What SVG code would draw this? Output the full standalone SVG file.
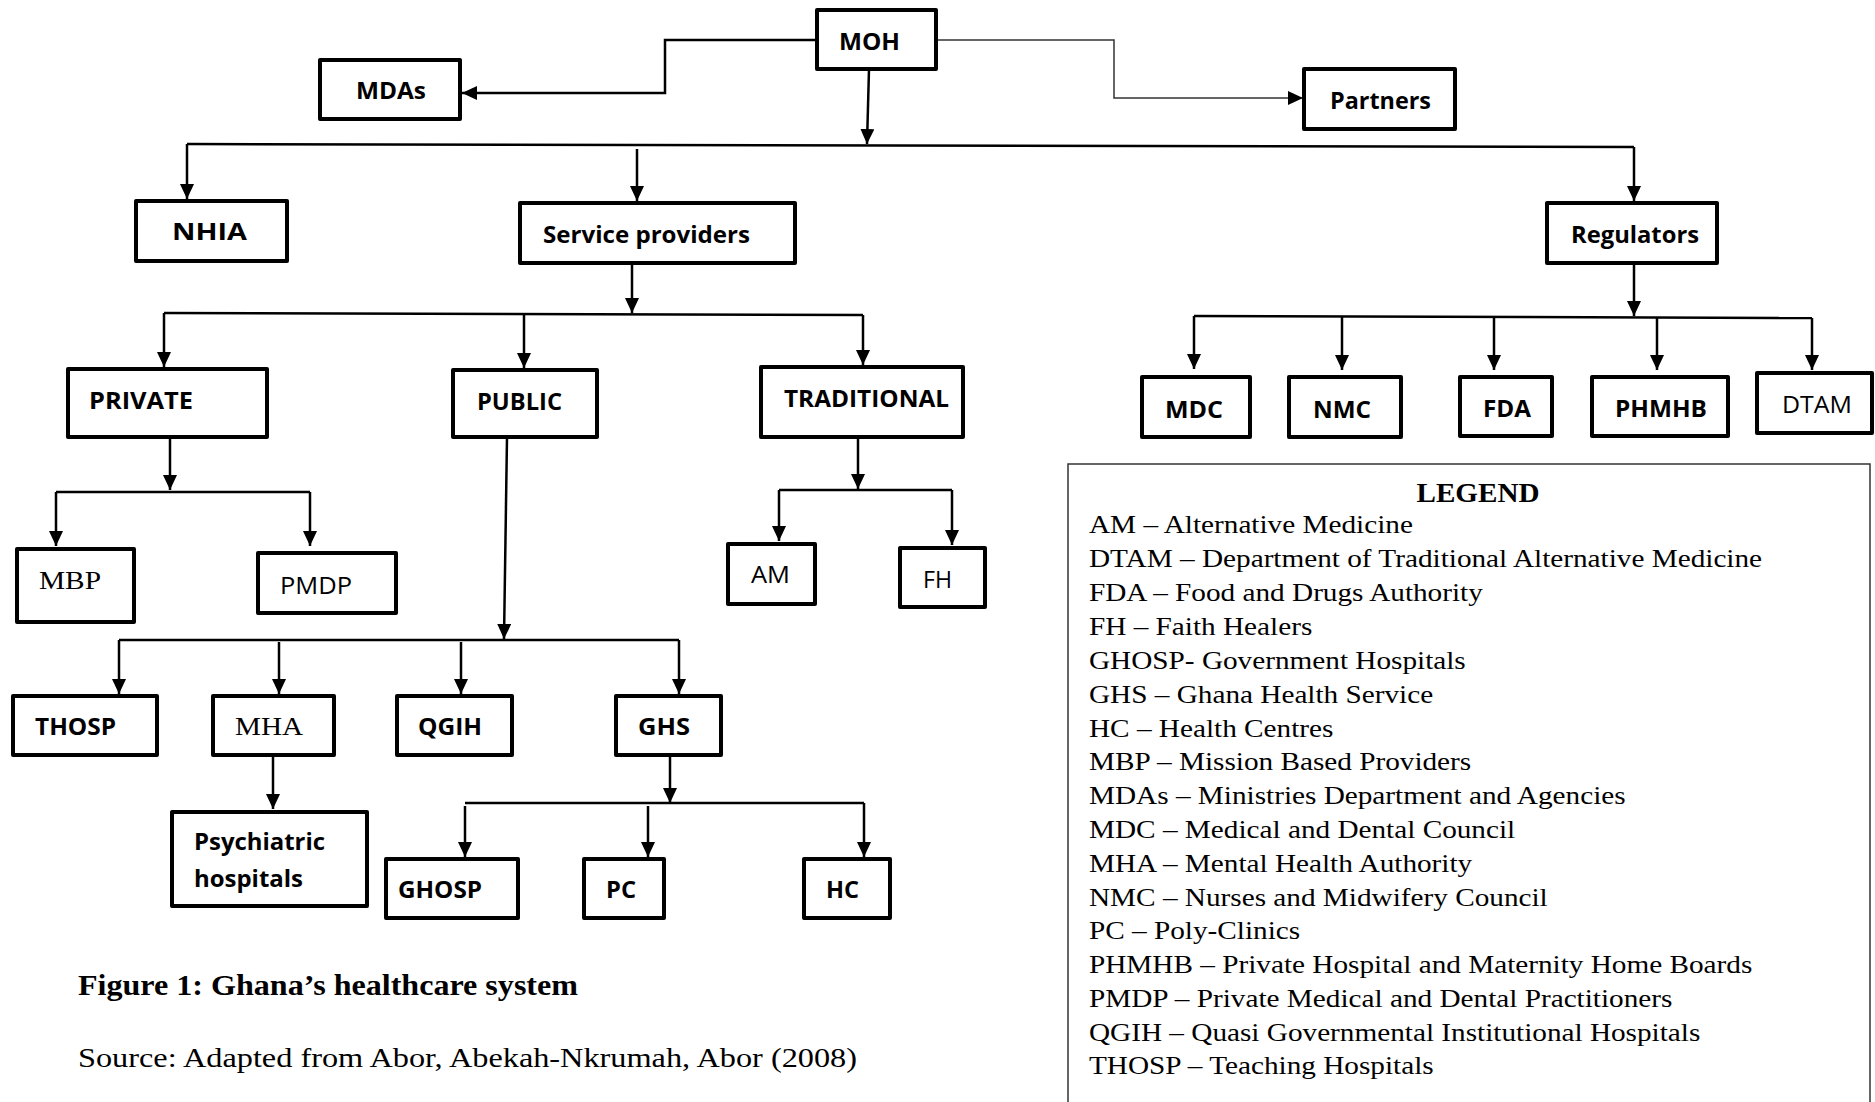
<svg xmlns="http://www.w3.org/2000/svg" width="1875" height="1102" viewBox="0 0 1875 1102">
<defs>
<marker id="arr" markerUnits="userSpaceOnUse" markerWidth="16" markerHeight="16" refX="15" refY="7" orient="auto">
<path d="M0,0 L15,7 L0,14 z" fill="#000"/>
</marker>
<style>
.box{fill:#fff;stroke:#000;stroke-width:4;stroke-linejoin:round}
.b{font-family:"Open Sans","Liberation Sans",sans-serif;font-weight:bold;font-size:24px;fill:#000}
.r{font-family:"Open Sans","Liberation Sans",sans-serif;font-size:24px;fill:#000}
.s{font-family:"Liberation Serif","Times New Roman",serif;font-size:26px;fill:#000}
.ln{fill:none;stroke:#000;stroke-width:2.5}
.ar{marker-end:url(#arr)}
.thin{fill:none;stroke:#333;stroke-width:1.5}
.leg{font-family:"Liberation Serif","Times New Roman",serif;font-size:25.5px;fill:#000}
</style>
</defs>
<rect width="1875" height="1102" fill="#fff"/>

<g id="connectors">
<polyline class="ln ar" points="817,40 665,40 665,93 462,93"/>
<polyline class="thin ar" points="936,40 1114,40 1114,98 1303,98"/>
<path class="ln ar" d="M869,69 L867,144"/>
<path class="ln" d="M187,144 L1634,147"/>
<path class="ln ar" d="M187,144 L187,199"/>
<path class="ln ar" d="M637,149 L637,201"/>
<path class="ln ar" d="M1634,147 L1634,201"/>

<path class="ln ar" d="M632,263 L632,313"/>
<path class="ln" d="M164,313 L863,315"/>
<path class="ln ar" d="M164,313 L164,367"/>
<path class="ln ar" d="M524,314 L524,368"/>
<path class="ln ar" d="M863,315 L863,365"/>

<path class="ln ar" d="M170,437 L170,490"/>
<path class="ln" d="M56,492 L310,492"/>
<path class="ln ar" d="M56,492 L56,546"/>
<path class="ln ar" d="M310,492 L310,546"/>

<path class="ln ar" d="M858,437 L858,489"/>
<path class="ln" d="M779,490 L952,490"/>
<path class="ln ar" d="M779,490 L779,541"/>
<path class="ln ar" d="M952,490 L952,545"/>

<path class="ln ar" d="M507,437 L504,639"/>
<path class="ln" d="M119,640 L679,640"/>
<path class="ln ar" d="M119,640 L119,694"/>
<path class="ln ar" d="M279,642 L279,694"/>
<path class="ln ar" d="M461,642 L461,694"/>
<path class="ln ar" d="M679,640 L679,694"/>

<path class="ln ar" d="M273,755 L273,809"/>
<path class="ln ar" d="M670,755 L670,803"/>
<path class="ln" d="M465,803 L864,803"/>
<path class="ln ar" d="M465,806 L465,857"/>
<path class="ln ar" d="M648,806 L648,857"/>
<path class="ln ar" d="M864,803 L864,857"/>

<path class="ln ar" d="M1634,263 L1634,316"/>
<path class="ln" d="M1194,316 L1812,318"/>
<path class="ln ar" d="M1194,316 L1194,369"/>
<path class="ln ar" d="M1342,317 L1342,370"/>
<path class="ln ar" d="M1494,317 L1494,370"/>
<path class="ln ar" d="M1657,317 L1657,370"/>
<path class="ln ar" d="M1812,318 L1812,370"/>
</g>

<g id="moh"><rect class="box" x="817" y="10" width="119" height="59"/><text class="b" x="839" y="50" textLength="61" lengthAdjust="spacingAndGlyphs">MOH</text></g>
<g id="mdas"><rect class="box" x="320" y="60" width="140" height="59"/><text class="b" x="356" y="99" font-size="25" textLength="70" lengthAdjust="spacingAndGlyphs">MDAs</text></g>
<g id="partners"><rect class="box" x="1304" y="69" width="151" height="60"/><text class="b" x="1330" y="109" font-size="26" textLength="101" lengthAdjust="spacingAndGlyphs">Partners</text></g>
<g id="nhia"><rect class="box" x="136" y="201" width="151" height="60"/><text class="b" x="172" y="240" textLength="75" lengthAdjust="spacingAndGlyphs">NHIA</text></g>
<g id="service-providers"><rect class="box" x="520" y="203" width="275" height="60"/><text class="b" x="543" y="243" font-size="23" textLength="207" lengthAdjust="spacingAndGlyphs">Service providers</text></g>
<g id="regulators"><rect class="box" x="1547" y="203" width="170" height="60"/><text class="b" x="1571" y="243" textLength="128" lengthAdjust="spacingAndGlyphs">Regulators</text></g>

<g id="private"><rect class="box" x="68" y="369" width="199" height="68"/><text class="b" x="89" y="409" font-size="26" textLength="104" lengthAdjust="spacingAndGlyphs">PRIVATE</text></g>
<g id="public"><rect class="box" x="453" y="370" width="144" height="67"/><text class="b" x="477" y="410" font-size="25" textLength="85" lengthAdjust="spacingAndGlyphs">PUBLIC</text></g>
<g id="traditional"><rect class="box" x="761" y="367" width="202" height="70"/><text class="b" x="784" y="407" font-size="26" textLength="165" lengthAdjust="spacingAndGlyphs">TRADITIONAL</text></g>

<g id="mdc"><rect class="box" x="1142" y="377" width="108" height="60"/><text class="b" x="1165" y="418" font-size="25" textLength="58" lengthAdjust="spacingAndGlyphs">MDC</text></g>
<g id="nmc"><rect class="box" x="1289" y="377" width="112" height="60"/><text class="b" x="1313" y="418" font-size="25" textLength="58" lengthAdjust="spacingAndGlyphs">NMC</text></g>
<g id="fda"><rect class="box" x="1460" y="377" width="92" height="59"/><text class="b" x="1483" y="417" textLength="48" lengthAdjust="spacingAndGlyphs">FDA</text></g>
<g id="phmhb"><rect class="box" x="1592" y="377" width="136" height="59"/><text class="b" x="1615" y="417" textLength="92" lengthAdjust="spacingAndGlyphs">PHMHB</text></g>
<g id="dtam"><rect class="box" x="1757" y="373" width="115" height="60"/><text class="r" x="1782" y="413" textLength="70" lengthAdjust="spacingAndGlyphs">DTAM</text></g>

<g id="mbp"><rect class="box" x="17" y="549" width="117" height="73"/><text class="s" x="39" y="589" font-size="28" textLength="62" lengthAdjust="spacingAndGlyphs">MBP</text></g>
<g id="pmdp"><rect class="box" x="258" y="553" width="138" height="60"/><text class="r" x="280" y="594" textLength="72" lengthAdjust="spacingAndGlyphs">PMDP</text></g>
<g id="am"><rect class="box" x="728" y="544" width="87" height="60"/><text class="r" x="751" y="583" textLength="39" lengthAdjust="spacingAndGlyphs">AM</text></g>
<g id="fh"><rect class="box" x="900" y="548" width="85" height="59"/><text class="r" x="923" y="588" textLength="29" lengthAdjust="spacingAndGlyphs">FH</text></g>

<g id="thosp"><rect class="box" x="13" y="696" width="144" height="59"/><text class="b" x="35" y="735" textLength="81" lengthAdjust="spacingAndGlyphs">THOSP</text></g>
<g id="mha"><rect class="box" x="213" y="696" width="121" height="59"/><text class="s" x="235" y="735" font-size="25" textLength="68" lengthAdjust="spacingAndGlyphs">MHA</text></g>
<g id="qgih"><rect class="box" x="397" y="696" width="115" height="59"/><text class="b" x="418" y="735" textLength="64" lengthAdjust="spacingAndGlyphs">QGIH</text></g>
<g id="ghs"><rect class="box" x="616" y="696" width="105" height="59"/><text class="b" x="638" y="735" textLength="52" lengthAdjust="spacingAndGlyphs">GHS</text></g>

<g id="psychiatric-hospitals"><rect class="box" x="172" y="812" width="195" height="94"/><text class="b" x="194" y="850" textLength="131" lengthAdjust="spacingAndGlyphs">Psychiatric</text><text class="b" x="194" y="887" textLength="109" lengthAdjust="spacingAndGlyphs">hospitals</text></g>
<g id="ghosp"><rect class="box" x="386" y="859" width="132" height="59"/><text class="b" x="398" y="898" textLength="84" lengthAdjust="spacingAndGlyphs">GHOSP</text></g>
<g id="pc"><rect class="box" x="584" y="859" width="80" height="59"/><text class="b" x="606" y="898" textLength="30" lengthAdjust="spacingAndGlyphs">PC</text></g>
<g id="hc"><rect class="box" x="804" y="859" width="86" height="59"/><text class="b" x="826" y="898" textLength="33" lengthAdjust="spacingAndGlyphs">HC</text></g>

<g id="caption">
<text x="78" y="995" font-family="'Liberation Serif','Times New Roman',serif" font-weight="bold" font-size="30" textLength="500" lengthAdjust="spacingAndGlyphs">Figure 1: Ghana’s healthcare system</text>
<text x="78" y="1067" font-family="'Liberation Serif','Times New Roman',serif" font-size="27.5" textLength="779" lengthAdjust="spacingAndGlyphs">Source: Adapted from Abor, Abekah-Nkrumah, Abor (2008)</text>
</g>

<g id="legend">
<rect x="1068" y="464" width="802" height="700" fill="#fff" stroke="#333" stroke-width="1.5"/>
<text x="1478" y="502" text-anchor="middle" font-family="'Liberation Serif','Times New Roman',serif" font-weight="bold" font-size="28" textLength="123" lengthAdjust="spacingAndGlyphs">LEGEND</text>
<g transform="translate(1089 0) scale(1.147 1)" class="leg">
<text x="0" y="533">AM – Alternative Medicine</text>
<text x="0" y="567">DTAM – Department of Traditional Alternative Medicine</text>
<text x="0" y="601">FDA – Food and Drugs Authority</text>
<text x="0" y="635">FH – Faith Healers</text>
<text x="0" y="669">GHOSP- Government Hospitals</text>
<text x="0" y="703">GHS – Ghana Health Service</text>
<text x="0" y="737">HC – Health Centres</text>
<text x="0" y="770">MBP – Mission Based Providers</text>
<text x="0" y="804">MDAs – Ministries Department and Agencies</text>
<text x="0" y="838">MDC – Medical and Dental Council</text>
<text x="0" y="872">MHA – Mental Health Authority</text>
<text x="0" y="906">NMC – Nurses and Midwifery Council</text>
<text x="0" y="939">PC – Poly-Clinics</text>
<text x="0" y="973">PHMHB – Private Hospital and Maternity Home Boards</text>
<text x="0" y="1007">PMDP – Private Medical and Dental Practitioners</text>
<text x="0" y="1041">QGIH – Quasi Governmental Institutional Hospitals</text>
<text x="0" y="1074">THOSP – Teaching Hospitals</text>
</g>
</g>
</svg>
